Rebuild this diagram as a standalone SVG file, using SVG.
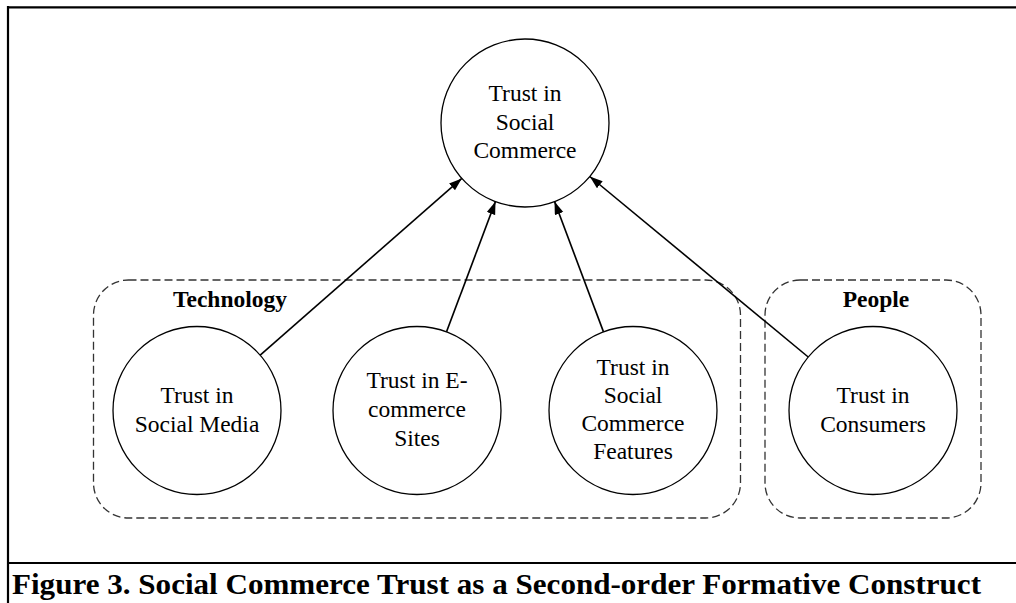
<svg xmlns="http://www.w3.org/2000/svg" width="1016" height="603" viewBox="0 0 1016 603">
<style>
.frame{stroke:#000;stroke-width:2.2;fill:none}
.node{fill:#fff;stroke:#000;stroke-width:1.3}
.grp{fill:none;stroke:#333;stroke-width:1.3;stroke-dasharray:8 4}
.lbl{font-family:"Liberation Serif","Times New Roman",serif;font-size:23.5px;fill:#000;text-anchor:middle}
.glbl{font-family:"Liberation Serif","Times New Roman",serif;font-size:23.5px;font-weight:bold;fill:#000;text-anchor:middle}
.cap{font-family:"Liberation Serif","Times New Roman",serif;font-size:30px;font-weight:bold;fill:#000}
.edge{stroke:#000;stroke-width:1.6;fill:none;marker-end:url(#arr)}
</style>
<defs>
<marker id="arr" markerUnits="userSpaceOnUse" markerWidth="14" markerHeight="10" refX="13" refY="4.5" orient="auto">
<path d="M0,0 L13,4.5 L0,9 z" fill="#000"/>
</marker>
</defs>
<rect width="1016" height="603" fill="#fff"/>
<g id="frame">
<line class="frame" x1="8" y1="6" x2="8" y2="603"/>
<line class="frame" x1="7" y1="7.3" x2="1016" y2="7.3"/>
<line class="frame" x1="8" y1="563" x2="1016" y2="563"/>
</g>
<g id="group-technology">
<rect class="grp" x="93.5" y="280" width="647" height="238" rx="35" ry="35"/>
<text class="glbl" x="230" y="307">Technology</text>
</g>
<g id="group-people">
<rect class="grp" x="765" y="280" width="216" height="238" rx="35" ry="35"/>
<text class="glbl" x="876" y="307">People</text>
</g>
<g id="connectors">
<line class="edge" x1="260.2" y1="355.1" x2="461.8" y2="178.4"/>
<line class="edge" x1="446.5" y1="331.9" x2="495.5" y2="201.4"/>
<line class="edge" x1="603.5" y1="331.9" x2="554.5" y2="201.4"/>
<line class="edge" x1="808.2" y1="357" x2="589.8" y2="176.5"/>
</g>
<g id="node-trust-social-commerce">
<circle class="node" cx="525" cy="123" r="84"/>
<text class="lbl" x="525" y="101">Trust in</text>
<text class="lbl" x="525" y="130">Social</text>
<text class="lbl" x="525" y="158">Commerce</text>
</g>
<g id="node-social-media">
<circle class="node" cx="197" cy="410.5" r="84"/>
<text class="lbl" x="197" y="403">Trust in</text>
<text class="lbl" x="197" y="432">Social Media</text>
</g>
<g id="node-ecommerce-sites">
<circle class="node" cx="417" cy="410.5" r="84"/>
<text class="lbl" x="417" y="388">Trust in E-</text>
<text class="lbl" x="417" y="417">commerce</text>
<text class="lbl" x="417" y="446">Sites</text>
</g>
<g id="node-sc-features">
<circle class="node" cx="633" cy="410.5" r="84"/>
<text class="lbl" x="633" y="375">Trust in</text>
<text class="lbl" x="633" y="403">Social</text>
<text class="lbl" x="633" y="431">Commerce</text>
<text class="lbl" x="633" y="459">Features</text>
</g>
<g id="node-consumers">
<circle class="node" cx="873" cy="410.5" r="84"/>
<text class="lbl" x="873" y="403">Trust in</text>
<text class="lbl" x="873" y="432">Consumers</text>
</g>
<text class="cap" x="12" y="594" textLength="969" lengthAdjust="spacingAndGlyphs">Figure 3. Social Commerce Trust as a Second-order Formative Construct</text>
</svg>
